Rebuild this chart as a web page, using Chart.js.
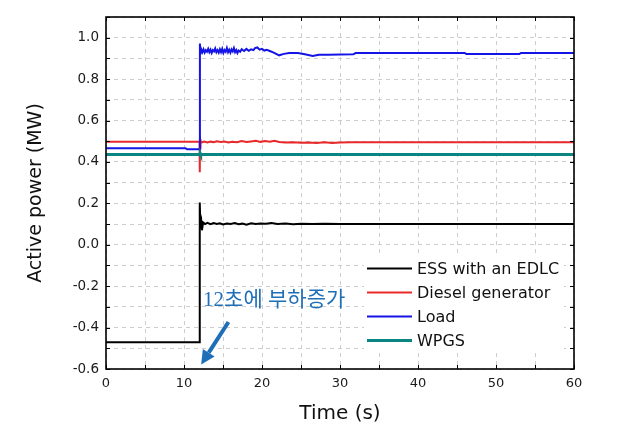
<!DOCTYPE html>
<html>
<head>
<meta charset="utf-8">
<script src="https://cdn.jsdelivr.net/npm/chart.js@4/dist/chart.umd.min.js"></script>
<style>
  html, body { margin: 0; padding: 0; background: #ffffff; }
  #c { display: block; }
</style>
</head>
<body>
<canvas id="c" width="618" height="437"></canvas>
<script>
// ---------- data ----------
const seriesNames = ["ESS with an EDLC", "Diesel generator", "Load", "WPGS"];

const essTime = [0, 12, 12.02, 12.08, 12.15, 12.22, 12.3, 12.45, 12.7, 13.0, 13.4, 13.8, 14.2, 14.6, 15.0, 15.5, 16.0, 16.5, 17.0, 17.5, 18.0, 18.6, 19.2, 19.8, 20.5, 21.2, 22.0, 23.0, 24.0, 25.0, 26.5, 28.0, 30.0, 35, 60];
const essPower = [-0.471, -0.471, 0.204, 0.12, 0.095, 0.11, 0.07, 0.108, 0.1, 0.106, 0.099, 0.105, 0.1, 0.104, 0.098, 0.103, 0.1, 0.105, 0.099, 0.102, 0.097, 0.104, 0.1, 0.103, 0.101, 0.105, 0.1, 0.103, 0.099, 0.102, 0.1, 0.101, 0.1, 0.1, 0.1];

const dieselTime = [0, 12, 12.02, 12.06, 12.12, 12.3, 12.6, 13.0, 13.4, 13.8, 14.2, 14.7, 15.2, 15.7, 16.2, 16.8, 17.4, 18.0, 18.6, 19.2, 19.8, 20.4, 21.0, 21.6, 22.2, 23.0, 24.0, 25.0, 26.0, 27.0, 28.0, 29.0, 30.0, 31.5, 60];
const dieselPower = [0.498, 0.498, 0.35, 0.51, 0.50, 0.495, 0.499, 0.494, 0.498, 0.495, 0.5, 0.496, 0.499, 0.494, 0.497, 0.495, 0.501, 0.496, 0.499, 0.502, 0.497, 0.501, 0.498, 0.502, 0.496, 0.494, 0.495, 0.493, 0.494, 0.492, 0.495, 0.492, 0.494, 0.495, 0.495];

const loadTime = [0, 10.2, 10.4, 12, 12.04, 12.1, 12.2, 12.35, 12.5, 12.65,
  12.8, 12.95, 13.1, 13.25, 13.4, 13.55, 13.7, 13.85, 14.0, 14.15,
  14.3, 14.45, 14.6, 14.75, 14.9, 15.05, 15.2, 15.35, 15.5, 15.65,
  15.8, 15.95, 16.1, 16.25, 16.4, 16.55, 16.7, 16.85, 17.0, 17.2,
  17.4, 17.7, 18.0, 18.3, 18.6, 18.9, 19.1, 19.4, 19.7, 20.0,
  20.3, 20.6, 21.0, 21.5, 22.2, 22.8, 23.5, 24.6, 25.5, 26.5,
  27.3, 28.5, 30.0, 31.7, 32.0, 46.0, 46.2, 53.0, 53.2, 60];
const loadPower = [0.466, 0.466, 0.461, 0.461, 0.972, 0.92, 0.945, 0.93, 0.944, 0.928,
  0.94, 0.932, 0.946, 0.93, 0.942, 0.926, 0.94, 0.934, 0.948, 0.93,
  0.94, 0.928, 0.944, 0.93, 0.946, 0.926, 0.94, 0.932, 0.95, 0.93,
  0.942, 0.928, 0.944, 0.934, 0.95, 0.93, 0.94, 0.926, 0.938, 0.932,
  0.944, 0.936, 0.946, 0.937, 0.944, 0.94, 0.95, 0.953, 0.942, 0.946,
  0.938, 0.942, 0.936, 0.928, 0.915, 0.922, 0.926, 0.926, 0.92, 0.912,
  0.918, 0.918, 0.919, 0.92, 0.926, 0.926, 0.921, 0.921, 0.926, 0.926];

const wpgsTime = [0, 12, 12.03, 12.08, 12.15, 60];
const wpgsPower = [0.436, 0.436, 0.428, 0.443, 0.436, 0.436];

const xTickValues = [0, 10, 20, 30, 40, 50, 60];
const yTickValues = [-0.6, -0.4, -0.2, 0.0, 0.2, 0.4, 0.6, 0.8, 1.0];

const annotationText = "12초에 부하증가";
// annotation anchor points in data units (time s, power MW)
const annotationTextAt = [12.45, -0.267];
const arrowFrom = [15.7, -0.373];
const arrowTo = [12.2, -0.578];

// ---------- helpers ----------
function toPoints(ts, vs) { return ts.map((t, i) => ({ x: t, y: vs[i] })); }

const colors = ["#000000", "#e8282b", "#1414e6", "#0b8582"];
const widths = [2, 2, 2, 2.8];

const latinFont = '"DejaVu Sans", "Liberation Sans", sans-serif';

// ---------- plugins ----------
const framePlugin = {
  id: 'frame',
  afterDraw(chart) {
    const { ctx, chartArea: a, scales } = chart;
    ctx.save();
    ctx.strokeStyle = '#000';
    ctx.lineWidth = 1;
    ctx.beginPath();
    for (let v = -6; v <= 11; v++) {
      const y = Math.round(scales.y.getPixelForValue(v / 10)) + 0.5;
      ctx.moveTo(a.left, y); ctx.lineTo(a.left + 4, y);
      ctx.moveTo(a.right, y); ctx.lineTo(a.right - 4, y);
    }
    for (let t = 0; t <= 60; t += 5) {
      const x = Math.round(scales.x.getPixelForValue(t)) + 0.5;
      ctx.moveTo(x, a.bottom); ctx.lineTo(x, a.bottom - 4);
      ctx.moveTo(x, a.top); ctx.lineTo(x, a.top + 4);
    }
    ctx.stroke();
    ctx.lineWidth = 1.6;
    ctx.strokeRect(a.left, a.top, a.right - a.left, a.bottom - a.top);
    ctx.restore();
  }
};

const legendPlugin = {
  id: 'boxLegend',
  afterDatasetsDraw(chart) {
    const { ctx } = chart;
    ctx.save();
    ctx.fillStyle = '#ffffff';
    ctx.fillRect(364, 256, 200, 96);
    ctx.font = '16px ' + latinFont;
    ctx.textBaseline = 'middle';
    ctx.textAlign = 'left';
    const rowY = [268.5, 292.5, 316.5, 340.5];
    seriesNames.forEach((name, i) => {
      ctx.strokeStyle = colors[i];
      ctx.lineWidth = widths[i];
      ctx.beginPath();
      ctx.moveTo(367, rowY[i]);
      ctx.lineTo(412, rowY[i]);
      ctx.stroke();
      ctx.fillStyle = '#111111';
      ctx.fillText(name, 417, rowY[i] + 1);
    });
    ctx.restore();
  }
};

const annotationPlugin = {
  id: 'arrowNote',
  afterDraw(chart) {
    const { ctx, scales } = chart;
    const px = p => [scales.x.getPixelForValue(p[0]), scales.y.getPixelForValue(p[1])];
    const [tx, ty] = px(annotationTextAt);
    const [fx, fy] = px(arrowFrom);
    const [ex, ey] = px(arrowTo);
    ctx.save();
    const blue = '#1f6fb8';
    ctx.fillStyle = blue;
    ctx.font = '21px "Liberation Serif", "Noto Sans CJK KR", serif';
    ctx.textBaseline = 'middle';
    ctx.textAlign = 'left';
    ctx.fillText(annotationText, tx, ty);
    const ang = Math.atan2(ey - fy, ex - fx);
    const headLen = 14, headW = 7;
    const bx = ex - headLen * Math.cos(ang), by = ey - headLen * Math.sin(ang);
    ctx.strokeStyle = blue;
    ctx.lineWidth = 4;
    ctx.beginPath();
    ctx.moveTo(fx, fy);
    ctx.lineTo(bx, by);
    ctx.stroke();
    ctx.beginPath();
    ctx.moveTo(ex, ey);
    ctx.lineTo(bx + headW * Math.sin(ang), by - headW * Math.cos(ang));
    ctx.lineTo(bx - headW * Math.sin(ang), by + headW * Math.cos(ang));
    ctx.closePath();
    ctx.fill();
    ctx.restore();
  }
};

// ---------- chart ----------
const seriesData = [
  toPoints(essTime, essPower),
  toPoints(dieselTime, dieselPower),
  toPoints(loadTime, loadPower),
  toPoints(wpgsTime, wpgsPower)
];

new Chart(document.getElementById('c'), {
  type: 'line',
  data: {
    datasets: seriesNames.map((name, i) => ({
      label: name,
      data: seriesData[i],
      borderColor: colors[i],
      backgroundColor: colors[i],
      borderWidth: widths[i],
      pointRadius: 0,
      tension: 0,
      fill: false,
      order: 3 - i
    }))
  },
  options: {
    responsive: false,
    animation: false,
    devicePixelRatio: 1,
    layout: { padding: { top: 17, right: 44, left: 0, bottom: 0 } },
    plugins: {
      legend: { display: false },
      tooltip: { enabled: false },
      title: { display: false }
    },
    scales: {
      x: {
        type: 'linear',
        min: 0, max: 60,
        afterFit(s) { s.height = 68; },
        ticks: {
          stepSize: 5,
          padding: 7,
          color: '#1a1a1a',
          font: { family: latinFont, size: 13 },
          maxRotation: 0,
          callback(v) { return xTickValues.includes(v) ? String(v) : ''; }
        },
        grid: { color: '#cdcdcd', lineWidth: 1, drawTicks: false },
        border: { display: false, dash: [4, 4] },
        title: {
          display: true,
          text: 'Time (s)',
          color: '#111111',
          font: { family: latinFont, size: 20 },
          padding: { top: 0, bottom: 11 }
        }
      },
      y: {
        type: 'linear',
        min: -0.6, max: 1.1,
        afterFit(s) { s.width = 106; },
        ticks: {
          stepSize: 0.1,
          padding: 7,
          color: '#1a1a1a',
          font: { family: latinFont, size: 13.5 },
          callback(v) {
            const r = Math.round(v * 10) / 10;
            const hit = yTickValues.some(t => Math.abs(t - r) < 1e-9);
            if (!hit) return '';
            const s = r.toFixed(1);
            return s === '-0.0' ? '0.0' : s;
          }
        },
        grid: { color: '#cdcdcd', lineWidth: 1, drawTicks: false },
        border: { display: false, dash: [4, 4] },
        title: {
          display: true,
          text: 'Active power (MW)',
          color: '#111111',
          font: { family: latinFont, size: 19 },
          padding: { top: 25, bottom: 0 }
        }
      }
    }
  },
  plugins: [legendPlugin, framePlugin, annotationPlugin]
});
</script>
</body>
</html>
